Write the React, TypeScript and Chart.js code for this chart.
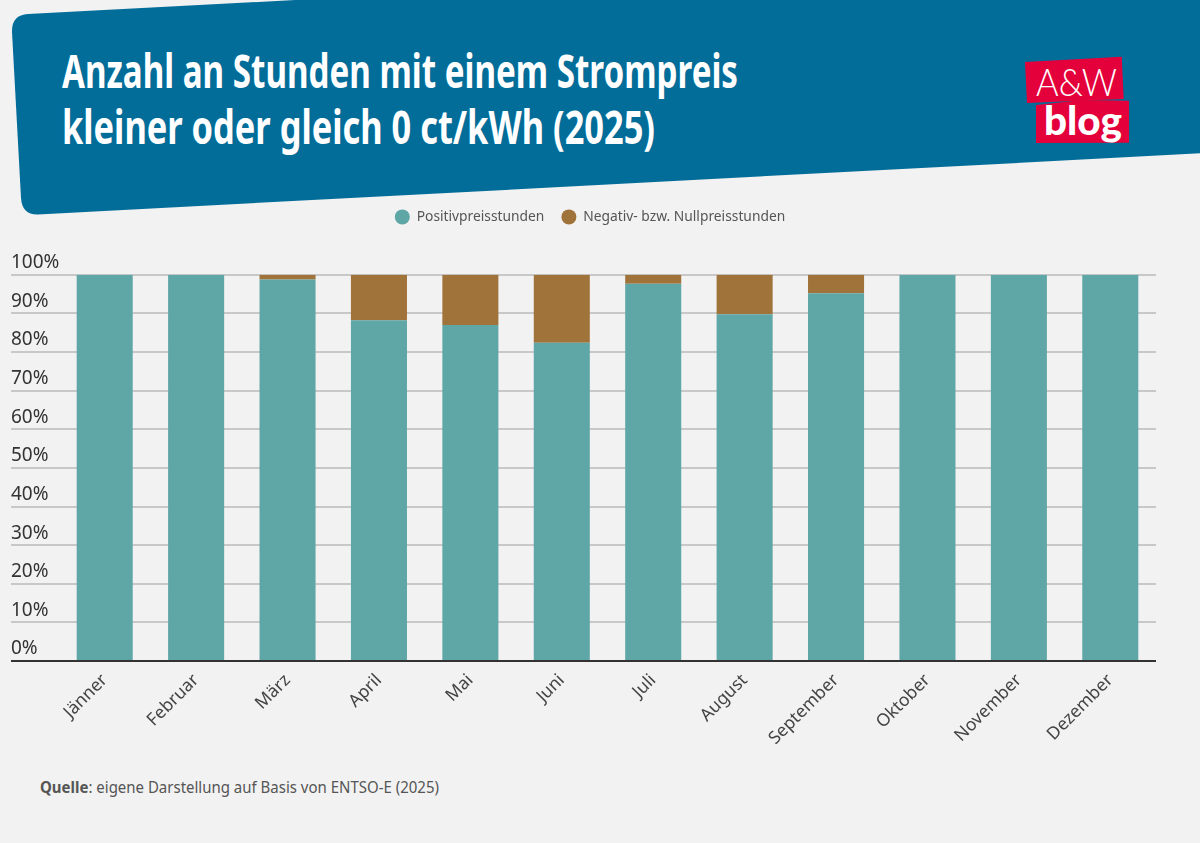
import React, { useEffect, useRef } from "react";
import { Chart, registerables } from "chart.js";

Chart.register(...registerables);

const titleLines = ["Anzahl an Stunden mit einem Strompreis", "kleiner oder gleich 0 ct/kWh (2025)"];
const months = ["Jänner", "Februar", "März", "April", "Mai", "Juni", "Juli", "August", "September", "Oktober", "November", "Dezember"];
const positiveShare = [100, 100, 98.8, 88.2, 87.0, 82.4, 97.7, 89.8, 95.2, 100, 100, 100];
const negativeShare = [0, 0, 1.2, 11.8, 13.0, 17.6, 2.3, 10.2, 4.8, 0, 0, 0];
const seriesNames = ["Positivpreisstunden", "Negativ- bzw. Nullpreisstunden"];
const sourceBold = "Quelle";
const sourceRest = ": eigene Darstellung auf Basis von ENTSO-E (2025)";

const BG = "#f2f2f2";
const BODY_FONT = "'Noto Sans'";

const legendShift = {
  id: "legendShift",
  afterLayout(chart: any) {
    const l = chart.legend;
    if (!l) return;
    l.left += 6.5;
    l.right += 6.5;
    l.top = 193;
  },
};

export default function App() {
  const ref = useRef<HTMLCanvasElement | null>(null);

  useEffect(() => {
    const chart = new Chart(ref.current as HTMLCanvasElement, {
      type: "bar",
      data: {
        labels: months,
        datasets: [
          { label: seriesNames[0], data: positiveShare, backgroundColor: "#5fa6a6", barPercentage: 0.613, categoryPercentage: 1 },
          { label: seriesNames[1], data: negativeShare, backgroundColor: "#a0733a", barPercentage: 0.613, categoryPercentage: 1 },
        ],
      },
      options: {
        responsive: false,
        animation: false,
        devicePixelRatio: 1,
        layout: { padding: { left: 11, right: 44, top: 234, bottom: 82 } },
        plugins: {
          tooltip: { enabled: false },
          title: { display: false },
          legend: {
            position: "top",
            labels: {
              usePointStyle: true,
              pointStyle: "circle",
              pointStyleWidth: 15,
              boxHeight: 10.6,
              padding: 17,
              color: "#555555",
              font: { family: BODY_FONT, size: 13.8 },
            },
          },
        },
        scales: {
          x: {
            stacked: true,
            grid: { display: false },
            border: { display: false },
            afterFit(scale: any) {
              scale.height = 100;
            },
            ticks: {
              maxRotation: 45,
              minRotation: 45,
              autoSkip: false,
              padding: 1,
              color: "#444444",
              font: { family: BODY_FONT, size: 17.5 },
            },
          },
          y: {
            stacked: true,
            min: 0,
            max: 100,
            afterFit(scale: any) {
              scale.width = 48;
            },
            border: { display: false },
            grid: {
              tickLength: 48,
              color: (c: any) => (c.tick && c.tick.value === 0 ? "#333333" : "#c8c8c8"),
              tickColor: (c: any) => (c.tick && c.tick.value === 0 ? "#333333" : "#c8c8c8"),
              lineWidth: 2,
              tickWidth: 2,
            },
            ticks: {
              stepSize: 10,
              crossAlign: "far",
              labelOffset: -12,
              color: "#333333",
              font: { family: BODY_FONT, size: 19 },
              callback: (v: any) => v + "%",
            },
          },
        },
      },
      plugins: [legendShift],
    } as any);
    return () => chart.destroy();
  }, []);

  return (
    <div style={{ position: "fixed", left: 0, top: 0, width: 1200, height: 843, background: BG, overflow: "hidden" }}>
      <svg width={1200} height={843} style={{ position: "absolute", left: 0, top: 0 }}>
        <path d="M 12 32 Q 11.5 15 28 14 L 295 0 L 1200 0 L 1200 153.3 L 38 214.5 Q 22 215 21 198 Z" fill="#036d9a" />
        <g fontFamily="'Noto Sans'" fontWeight={700} fontSize={46} fill="#ffffff">
          <text x={62} y={88} textLength={676} lengthAdjust="spacingAndGlyphs">{titleLines[0]}</text>
          <text x={62} y={144} textLength={593} lengthAdjust="spacingAndGlyphs">{titleLines[1]}</text>
        </g>
        <polygon points="1025,62 1121.7,56.7 1123.7,99 1027,103" fill="#e4003a" />
        <polygon points="1036,105 1083,100 1129,100.7 1129,142.7 1036,143" fill="#e4003a" />
        <text x={1036} y={96} fontFamily="Lato" fontSize={38} fill="#ffffff" fontWeight={300} textLength={81} lengthAdjust="spacingAndGlyphs">A&amp;W</text>
        <text x={1044} y={135} fontFamily="Lato" fontSize={40} fill="#ffffff" fontWeight={900} textLength={78} lengthAdjust="spacingAndGlyphs">blog</text>
        <text x={40} y={793} fontFamily={BODY_FONT} fontSize={16} fill="#555555" textLength={399} lengthAdjust="spacingAndGlyphs">
          <tspan fontWeight={700}>{sourceBold}</tspan>
          {sourceRest}
        </text>
      </svg>
      <canvas ref={ref} width={1200} height={843} style={{ position: "absolute", left: 0, top: 0, display: "block" }} />
    </div>
  );
}
